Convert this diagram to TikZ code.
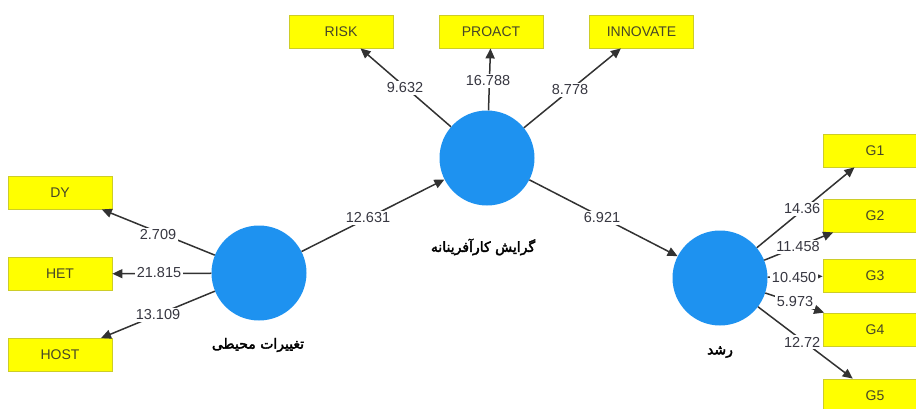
\documentclass[tikz,border=0pt]{standalone}
\usepackage{fontspec}
\setmainfont{Liberation Sans}
\newfontfamily\arabicfont[Script=Arabic, FakeBold=2.5]{DejaVu Sans}
\TeXXeTstate=1
\usetikzlibrary{arrows.meta}
\definecolor{latblue}{RGB}{30,146,240}
\definecolor{boxyellow}{RGB}{255,255,0}
\definecolor{boxedge}{RGB}{205,205,40}
\definecolor{boxtext}{RGB}{70,70,40}
\definecolor{valtext}{RGB}{55,55,65}
\definecolor{linegray}{RGB}{50,50,50}
\begin{document}
\begin{tikzpicture}[x=1pt,y=-1pt,
  ind/.style={draw=boxedge, line width=0.8pt, fill=boxyellow, minimum width=104pt, minimum height=33pt, inner sep=0pt, font=\fontsize{14}{16}\selectfont, text=boxtext},
  lat/.style={circle, fill=latblue, minimum size=95pt, inner sep=0pt},
  conn/.style={draw=linegray, line width=1.5pt, -{Triangle[length=10pt,width=9pt]}},
  val/.style={fill=white, inner sep=1.5pt, font=\fontsize{14.5}{16}\selectfont, text=valtext},
  lname/.style={font=\arabicfont\fontsize{14}{16}\selectfont, text=black}
]
\useasboundingbox (0,0) rectangle (916,408);
\clip (0,0) rectangle (916,408);

% latent variables
\node[lat] (eo) at (487,158) {};
\node[lat] (env) at (259,273) {};
\node[lat] (gr) at (720,278) {};

% indicators
\node[ind] (risk) at (341,31.5) {RISK};
\node[ind] (proact) at (491,31.5) {PROACT};
\node[ind] (innov) at (641.5,31.5) {INNOVATE};
\node[ind] (dy) at (60,192.5) {DY};
\node[ind] (het) at (60,274) {HET};
\node[ind] (host) at (60,355) {HOST};
\node[ind] (g1) at (875,150.5) {G1};
\node[ind] (g2) at (875,215.5) {G2};
\node[ind] (g3) at (875,275.5) {G3};
\node[ind] (g4) at (875,329.5) {G4};
\node[ind] (g5) at (875,395.5) {G5};

% connectors
\draw[conn] (eo) -- (risk);
\draw[conn] (eo) -- (proact);
\draw[conn] (eo) -- (innov);
\draw[conn] (env) -- (eo);
\draw[conn] (eo) -- (gr);
\draw[conn] (env) -- (dy);
\draw[conn] (env) -- (het);
\draw[conn] (env) -- (host);
\draw[conn] (gr) -- (g1);
\draw[conn] (gr) -- (g2);
\draw[conn] (gr) -- (g3);
\draw[conn] (gr) -- (g4);
\draw[conn] (gr) -- (g5);

% values
\node[val] (v1) at (405,88) {9.632};
\node[val] (v2) at (488,81) {16.788};
\node[val] (v3) at (570,90) {8.778};
\node[val] (v4) at (368,218) {12.631};
\node[val] (v5) at (602,218) {6.921};
\node[val] (v6) at (158,235) {2.709};
\node[val] (v7) at (159,273) {21.815};
\node[val] (v8) at (158,315) {13.109};
\node[val, anchor=east] (v9) at (822,209) {14.36};
\node[val] (v10) at (798,247) {11.458};
\node[val, anchor=east] (v11) at (818,278) {10.450};
\node[val] (v12) at (795,302) {5.973};
\node[val, anchor=east] (v13) at (822,342) {12.72};

% latent names
\node[lname] (n1) at (483,247) {\beginR گرایش کارآفرینانه\endR};
\node[lname] (n2) at (258,345) {\beginR تغییرات محیطی\endR};
\node[lname] (n3) at (720,352) {\beginR رشد\endR};
\end{tikzpicture}
\end{document}
